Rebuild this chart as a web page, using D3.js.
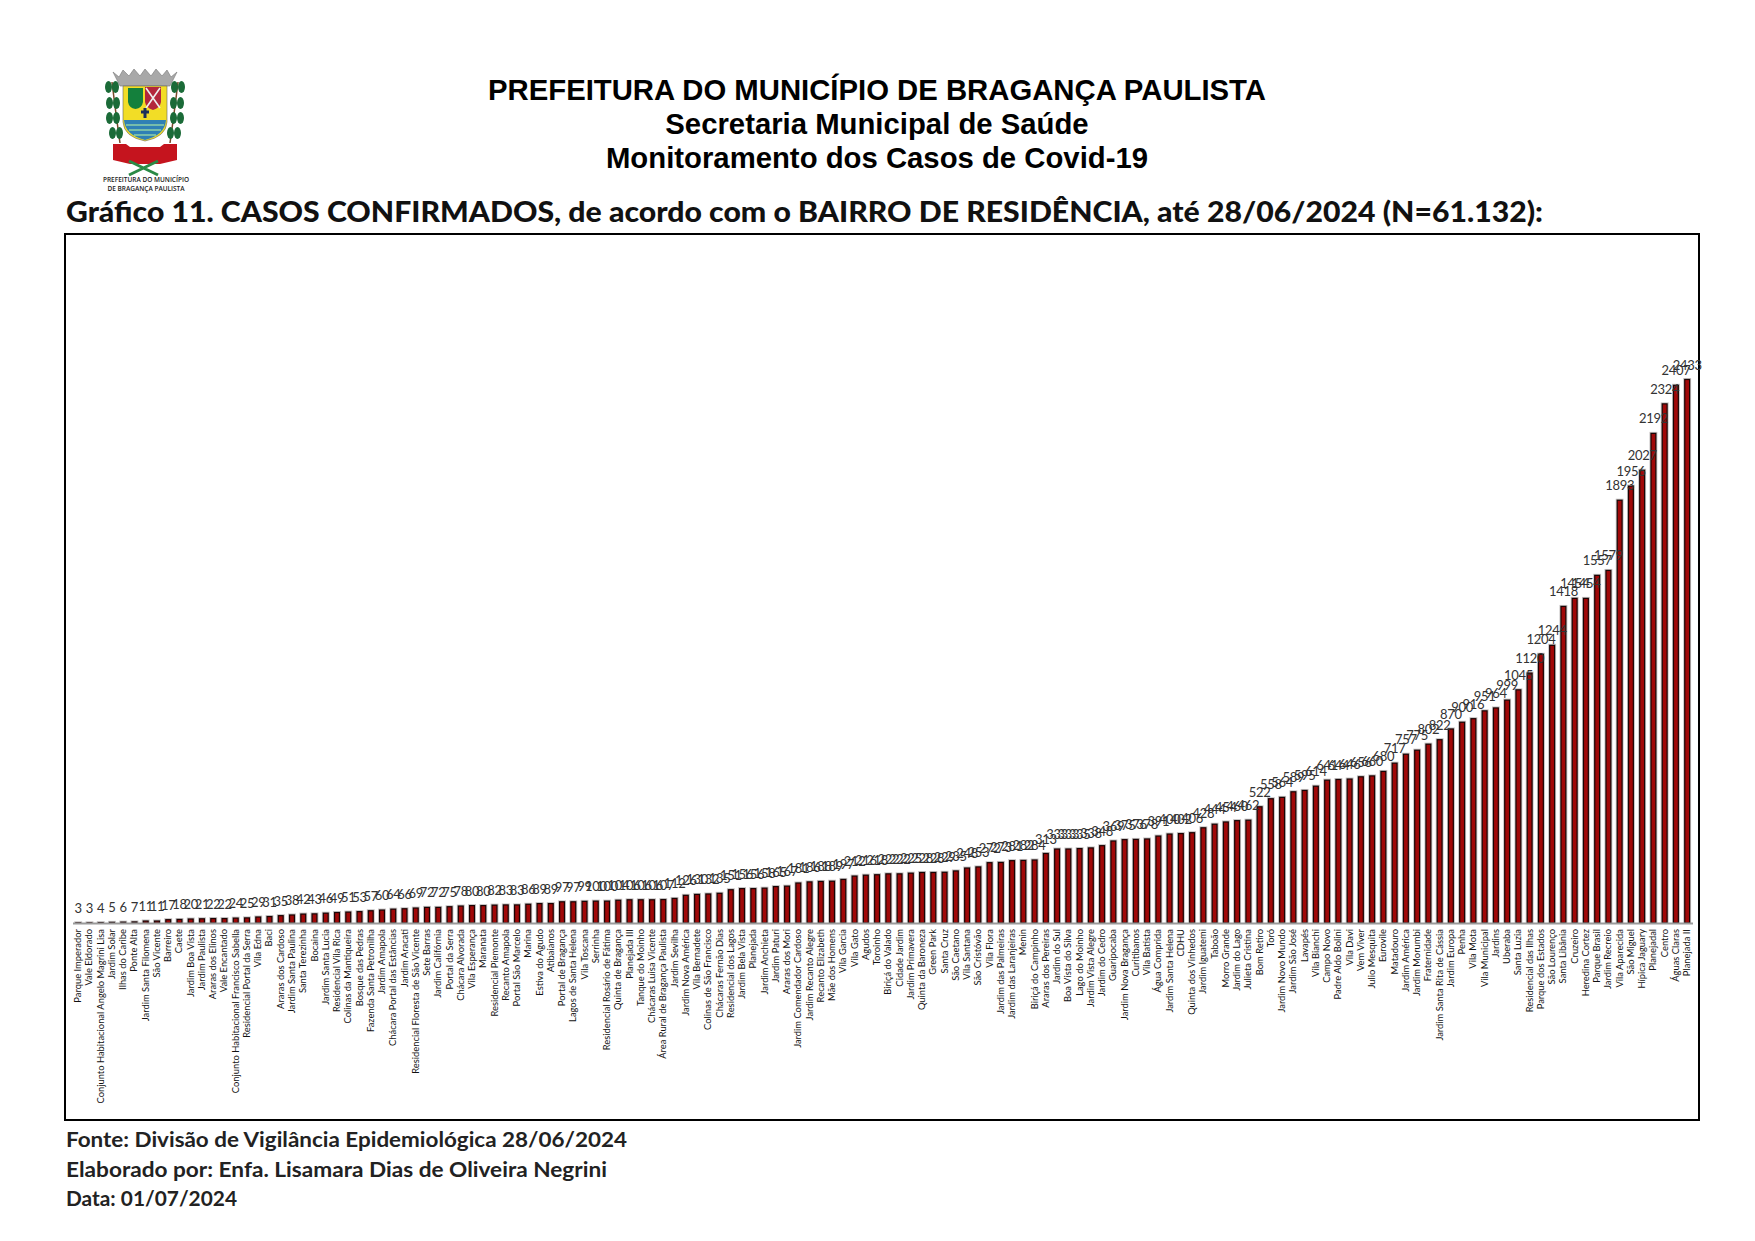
<!DOCTYPE html>
<html><head><meta charset="utf-8">
<script src="https://cdn.jsdelivr.net/npm/d3@7"></script>
<style>html,body{margin:0;padding:0;background:#fff}svg{display:block}</style>
</head><body><svg id="c" width="1755" height="1241"></svg>
<script>
const categories=["Parque Imperador","Vale Eldorado","Conjunto Habitacional Angelo Magrini Lisa","Jardim Solar","Ilhas do Caribe","Ponte Alta","Jardim Santa Filomena","São Vicente","Barreiro","Caete","Jardim Boa Vista","Jardim Paulista","Araras dos Elinos","Vale Encantado","Conjunto Habitacional Francisco Sabella","Residencial Portal da Serra","Vila Edna","Baci","Araras dos Cardoso","Jardim Santa Paulina","Santa Terezinha","Bocaina","Jardim Santa Lucia","Residencial Vila Rica","Colinas da Mantiqueira","Bosque das Pedras","Fazenda Santa Petronilha","Jardim Amapola","Chácara Portal das Estâncias","Jardim Aracati","Residencial Floresta de São Vicente","Sete Barras","Jardim Califórnia","Portal da Serra","Chácara Alvorada","Vila Esperança","Maranata","Residencial Piemonte","Recanto Amapola","Portal São Marcelo","Marina","Estiva do Agudo","Atibaianos","Portal de Bragança","Lagos de Santa Helena","Vila Toscana","Serrinha","Residencial Rosário de Fátima","Quinta de Bragança","Planejada III","Tanque do Moinho","Chácaras Luisa Vicente","Área Rural de Bragança Paulista","Jardim Sevilha","Jardim Nova América","Vila Bernadete","Colinas de São Francisco","Chácaras Fernão Dias","Residencial dos Lagos","Jardim Bela Vista","Planejada","Jardim Anchieta","Jardim Paturi","Araras dos Mori","Jardim Comendador Cardoso","Jardim Recanto Alegre","Recanto Elizabeth","Mãe dos Homens","Vila Garcia","Vila Gato","Agudos","Toroinho","Biriçá do Valado","Cidade Jardim","Jardim Primavera","Quinta da Baroneza","Green Park","Santa Cruz","São Caetano","Vila Santana","São Cristóvão","Vila Flora","Jardim das Palmeiras","Jardim das Laranjeiras","Menin","Biriçá do Campinho","Araras dos Pereiras","Jardim do Sul","Boa Vista do Silva","Lago do Moinho","Jardim Vista Alegre","Jardim do Cedro","Guaripocaba","Jardim Nova Bragança","Curitibanos","Vila Batista","Água Comprida","Jardim Santa Helena","CDHU","Quinta dos Vinhedos","Jardim Iguatemi","Taboão","Morro Grande","Jardim do Lago","Julieta Cristina","Bom Retiro","Toró","Jardim Novo Mundo","Jardim São José","Lavapés","Vila Bianchi","Campo Novo","Padre Aldo Bolini","Vila Davi","Vem Viver","Julio Mesquita","Eurovile","Matadouro","Jardim América","Jardim Morumbi","Fraternidade","Jardim Santa Rita de Cássia","Jardim Europa","Penha","Vila Mota","Vila Municipal","Jardins","Uberaba","Santa Luzia","Residencial das Ilhas","Parque dos Estados","São Lourenço","Santa Libânia","Cruzeiro","Heredina Cortez","Parque Brasil","Jardim Recreio","Vila Aparecida","São Miguel","Hípica Jaguary","Planejadal","Centro","Águas Claras","Planejada II"];
const values=[3,3,4,5,6,7,11,11,17,18,20,21,22,22,24,25,29,31,35,38,42,43,46,49,51,53,57,60,64,66,69,72,72,75,78,80,80,82,83,83,86,89,89,97,97,99,100,100,104,106,106,106,107,112,126,130,132,135,151,156,156,158,165,167,181,186,188,189,197,212,216,218,222,222,225,228,228,229,235,248,253,272,273,281,282,284,313,333,333,335,338,348,369,375,376,378,391,400,402,406,428,444,454,460,462,522,558,564,589,595,614,641,644,646,656,660,680,717,757,775,802,822,870,900,916,951,964,999,1045,1120,1204,1244,1418,1454,1454,1557,1579,1893,1956,2027,2192,2324,2407,2433];
const headerLines=["PREFEITURA DO MUNICÍPIO DE BRAGANÇA PAULISTA","Secretaria Municipal de Saúde","Monitoramento dos Casos de Covid-19"];
const chartTitle="Gráfico 11. CASOS CONFIRMADOS, de acordo com o BAIRRO DE RESIDÊNCIA, até 28/06/2024 (N=61.132):";
const footerLines=["Fonte: Divisão de Vigilância Epidemiológica 28/06/2024","Elaborado por: Enfa. Lisamara Dias de Oliveira Negrini","Data: 01/07/2024"];

const svg=d3.select("#c");
const GEO="Lato, 'Open Sans', sans-serif";
const x=d3.scaleBand().domain(categories).range([72.6,1692.8]).paddingInner(0.48).paddingOuter(0.24);
const y=d3.scaleLinear().domain([0,2433]).range([923,379]);

// header
[100,134,168].forEach((yy,i)=>{
  svg.append("text").attr("x",877).attr("y",yy).attr("text-anchor","middle")
   .attr("font-family","'Liberation Sans',Arial,sans-serif").attr("font-weight","bold").attr("font-size",29.3).attr("fill","#000").text(headerLines[i]);
});
svg.append("text").attr("x",66).attr("y",222).attr("font-family",GEO).attr("font-weight","900").attr("font-size",28)
  .attr("textLength",1477).attr("lengthAdjust","spacingAndGlyphs").attr("fill","#111").text(chartTitle);
// frame
svg.append("rect").attr("x",65).attr("y",234).attr("width",1634).attr("height",886).attr("fill","#fff").attr("stroke","#000").attr("stroke-width",2);
// bars
const g=svg.append("g");
const data=categories.map((c,i)=>({c,v:values[i]}));
g.selectAll("rect.s").data(data).join("rect").attr("class","s")
 .attr("x",d=>x(d.c)-1).attr("y",d=>y(d.v)-1).attr("width",x.bandwidth()+2).attr("height",d=>y(0)-y(d.v)+1).attr("fill","#8f8a8a").attr("opacity",.55);
g.selectAll("rect.b").data(data).join("rect").attr("class","b")
 .attr("x",d=>x(d.c)+.5).attr("y",d=>y(d.v)+.5).attr("width",x.bandwidth()-1).attr("height",d=>Math.max(0,y(0)-y(d.v)-.5)).attr("fill","#a00808").attr("stroke","#1a0505").attr("stroke-width",1.2);
g.append("line").attr("x1",73).attr("x2",1693).attr("y1",923.5).attr("y2",923.5).attr("stroke","#9a9a9a").attr("stroke-width",2);
// value labels
g.selectAll("text.v").data(data).join("text").attr("class","v")
 .attr("x",d=>x(d.c)+x.bandwidth()/2).attr("y",d=>y(d.v)-9.5).attr("text-anchor","middle")
 .attr("font-family",GEO).attr("font-size",13).attr("letter-spacing",-0.3).attr("fill","#333").text(d=>d.v);
// category axis labels
g.selectAll("text.c").data(data).join("text").attr("class","c")
 .attr("transform",d=>`translate(${x(d.c)+x.bandwidth()/2+3},929) rotate(-90)`).attr("text-anchor","end")
 .attr("font-family",GEO).attr("font-size",9.4).attr("fill","#111").text(d=>d.c);
// footer
[[1146.5,561],[1176.5,541],[1205.5,171]].forEach((p,i)=>svg.append("text").attr("x",66).attr("y",p[0]).attr("font-family",GEO).attr("font-weight","700").attr("font-size",21.5)
  .attr("textLength",p[1]).attr("lengthAdjust","spacingAndGlyphs").attr("fill","#222").text(footerLines[i]));

// crest (decoration)
const L=svg.append("g");
L.append("path").attr("d","M113,72 L119,77 L123,70 L129,76 L134,69 L140,76 L145,69 L151,76 L156,69 L162,76 L167,70 L171,77 L177,72 L170,86 L120,86Z").attr("fill","#a8a8a8").attr("stroke","#777").attr("stroke-width",.6);
L.append("path").attr("d","M123,86 H167 V122 Q166,137 145,141 Q124,137 123,122Z").attr("fill","#f2dd26").attr("stroke","#666").attr("stroke-width",.6);
L.append("path").attr("d","M128,88 H143 V102 Q142,108 135.5,109 Q129,108 128,102Z").attr("fill","#14803c");
L.append("path").attr("d","M145,87 H161 V102 Q160,108 153,110 Q146,108 145,102Z").attr("fill","#b3263c");
L.append("path").attr("d","M146,88 L160,108 M160,88 L146,108").attr("stroke","#eee").attr("stroke-width",1.6);
L.append("path").attr("d","M145,108 V118 M141,112 H149").attr("stroke","#1c2f5a").attr("stroke-width",3);
L.append("path").attr("d","M124,120 H166 Q165,135 145,140 Q125,135 124,120Z").attr("fill","#2f80b5");
L.append("path").attr("d","M126,125 H164 M129,130 H161 M134,135 H156").attr("stroke","#8fd0a8").attr("stroke-width",1.3);
L.append("path").attr("d","M113,144 H126 L130,147 H160 L164,144 H177 V160 L160,164 H130 L113,160Z").attr("fill","#c5141e");
L.append("path").attr("d","M129,161 L158,175 M129,175 L158,161").attr("stroke","#2a8a45").attr("stroke-width",3);
L.append("path").attr("d","M112,82 Q116,115 120,143 M178,82 Q174,115 170,143").attr("fill","none").attr("stroke","#7a4a2a").attr("stroke-width",1.5);
[[112,87],[113,103],[113,118],[116,133],[178,87],[177,103],[177,118],[174,133]].forEach(p=>{
  L.append("ellipse").attr("cx",p[0]-3.5).attr("cy",p[1]).attr("rx",3.5).attr("ry",6).attr("fill","#1b6b38");
  L.append("ellipse").attr("cx",p[0]+3.5).attr("cy",p[1]).attr("rx",3.5).attr("ry",6).attr("fill","#1b6b38");
});
["PREFEITURA DO MUNICÍPIO","DE BRAGANÇA PAULISTA"].forEach((t,i)=>L.append("text").attr("x",146).attr("y",182+i*9).attr("text-anchor","middle").attr("font-family","'Open Sans',sans-serif").attr("font-weight","600").attr("font-size",6.5).attr("fill","#222").text(t));
</script></body></html>
